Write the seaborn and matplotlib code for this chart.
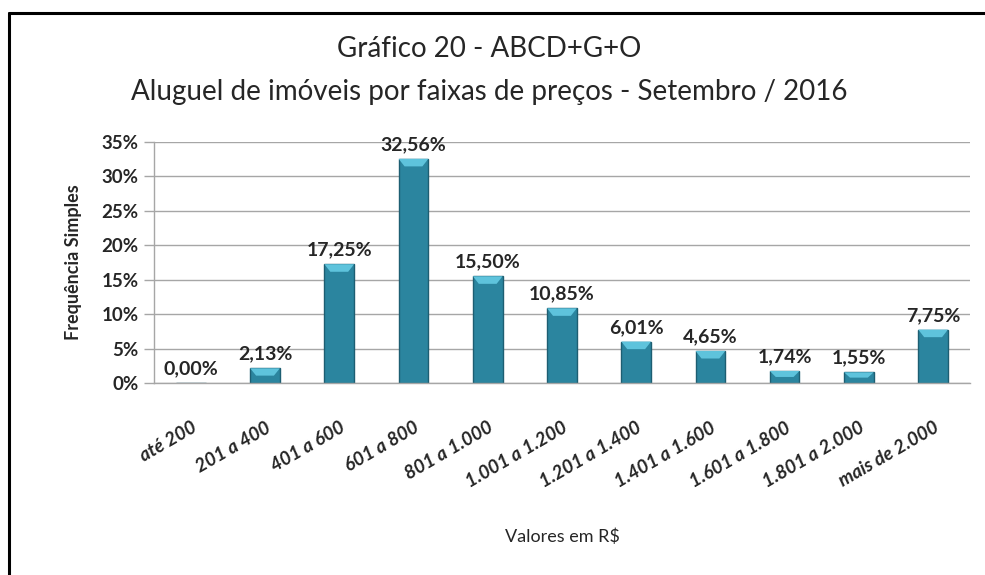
import numpy as np
import pandas as pd
import matplotlib
matplotlib.use("Agg")
import matplotlib.pyplot as plt
from matplotlib.lines import Line2D
from matplotlib.patches import Polygon
from matplotlib.ticker import FixedLocator
import seaborn as sns

# dados do gráfico
faixas = ["até 200", "201 a 400", "401 a 600", "601 a 800", "801 a 1.000",
          "1.001 a 1.200", "1.201 a 1.400", "1.401 a 1.600", "1.601 a 1.800",
          "1.801 a 2.000", "mais de 2.000"]
frequencia = [0.00, 2.13, 17.25, 32.56, 15.50, 10.85, 6.01, 4.65, 1.74, 1.55, 7.75]
y_ticks = [0, 5, 10, 15, 20, 25, 30, 35]

df = pd.DataFrame({"Faixa": faixas, "Freq": frequencia})

sns.set_style("white")
plt.rcParams["font.family"] = ["Lato", "DejaVu Sans"]

fig = plt.figure(figsize=(9.85, 5.75), dpi=100)
ax = fig.add_axes([0.156, 0.334, 0.829, 0.419])

sns.barplot(data=df, x="Faixa", y="Freq", color="#2B859F", width=0.4,
            edgecolor="#1D5E72", linewidth=1, saturation=1, ax=ax)

# bisel claro no topo das barras
for p in ax.patches:
    h = p.get_height()
    if h > 0:
        x0, w = p.get_x(), p.get_width()
        b = min(1.1, h * 0.5)
        ax.add_patch(Polygon([(x0, h), (x0 + w, h), (x0 + w * 0.8, h - b), (x0 + w * 0.2, h - b)],
                             closed=True, color="#5EC3DC", lw=0, zorder=3))

# rótulos de valores
for i, v in enumerate(frequencia):
    ax.annotate(f"{v:.2f}%".replace(".", ","), (i, v), xytext=(0, 4),
                textcoords="offset points", ha="center", va="bottom",
                fontsize=14, fontweight="bold")

ax.set_ylim(0, 35)
ax.set_xlim(-0.5, len(faixas) - 0.5)
ax.set_yticks(y_ticks)
ax.set_yticklabels([f"{t}%" for t in y_ticks], fontsize=13.5, fontweight="bold")
ax.yaxis.grid(True, color="#A6A6A6", lw=1)
ax.set_axisbelow(True)

ax.set_xticks(range(len(faixas)))
ax.set_xticklabels(faixas, rotation=30, ha="right", rotation_mode="anchor",
                   fontsize=13.5, fontweight="bold", fontstyle="italic")
ax.xaxis.set_minor_locator(FixedLocator(np.arange(-0.5, len(faixas), 1)))
ax.tick_params(axis="x", which="major", length=0, pad=26)
ax.tick_params(axis="x", which="minor", length=7, color="#A6A6A6", width=1)
ax.tick_params(axis="y", length=7, color="#A6A6A6", width=1, left=True, pad=4)

for s in ["top", "right"]:
    ax.spines[s].set_visible(False)
for s in ["left", "bottom"]:
    ax.spines[s].set_color("#A6A6A6")
    ax.spines[s].set_linewidth(1)

ax.set_xlabel("Valores em R$", fontsize=13, labelpad=27)
ax.set_ylabel("Frequência Simples", fontsize=13, fontweight="bold", labelpad=14)

fig.text(0.497, 0.915, "Gráfico 20 - ABCD+G+O", ha="center", va="center", fontsize=20)
fig.text(0.497, 0.84, "Aluguel de imóveis por faixas de preços - Setembro / 2016",
         ha="center", va="center", fontsize=20)

# moldura
fig.add_artist(Line2D([8.5 / 985, 8.5 / 985], [0, 1 - 13 / 575], color="black", lw=2.2))
fig.add_artist(Line2D([8.5 / 985, 1], [1 - 13 / 575, 1 - 13 / 575], color="black", lw=2.2))

fig.savefig("out.png", dpi=100)
